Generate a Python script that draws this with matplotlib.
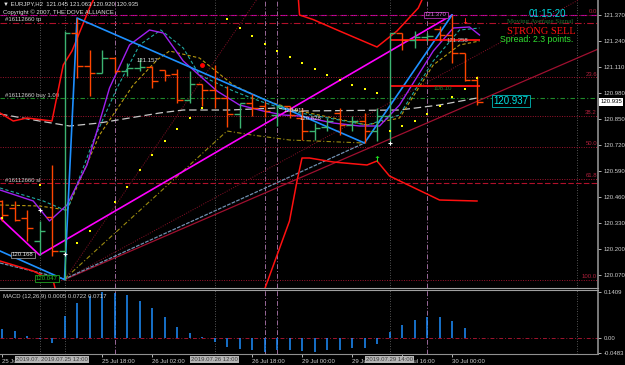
import matplotlib
matplotlib.use("Agg")
import matplotlib.pyplot as plt
import matplotlib.transforms as mtransforms

plt.rcParams['font.family'] = ['Liberation Sans', 'DejaVu Sans']

# ---- EURJPY H2 bars (bar 0 = 25 Jul 02:00) ----
opens = [120.442, 120.405, 120.355, 120.238, 120.36, 120.19, 121.28, 121.113, 121.08, 121.155,
         121.088, 121.105, 121.11, 121.097, 121.075, 120.947, 121.025, 120.997, 120.955, 120.875,
         120.93, 120.913, 120.872, 120.913, 120.855, 120.792, 120.81, 120.88, 120.822, 120.838,
         120.788, 120.863, 121.28, 121.247, 121.258, 121.30, 121.272, 121.18, 121.045]
highs = [120.447, 120.438, 120.397, 120.338, 120.622, 121.29, 121.355, 121.197, 121.197, 121.158,
         121.13, 121.155, 121.113, 121.097, 121.10, 121.088, 121.025, 121.122, 121.013, 120.93,
         120.975, 120.933, 120.922, 120.913, 120.905, 120.83, 120.855, 120.905, 120.863, 120.88,
         120.905, 121.28, 121.28, 121.288, 121.28, 121.313, 121.37, 121.18, 121.063]
lows = [120.338, 120.338, 120.238, 120.17, 120.163, 120.047, 121.055, 120.963, 121.08, 121.08,
        121.063, 121.088, 121.005, 121.038, 120.93, 120.93, 120.913, 120.905, 120.808, 120.805,
        120.863, 120.858, 120.813, 120.855, 120.747, 120.747, 120.788, 120.772, 120.788, 120.73,
        120.738, 120.738, 121.197, 121.205, 121.238, 121.238, 121.13, 121.038, 120.92]
closes = [120.372, 120.343, 120.305, 120.288, 120.19, 121.28, 121.113, 121.08, 121.155, 121.088,
          121.105, 121.11, 121.04, 121.072, 120.947, 121.025, 120.997, 120.955, 120.875, 120.93,
          120.905, 120.888, 120.913, 120.87, 120.792, 120.805, 120.838, 120.822, 120.838, 120.788,
          120.863, 121.28, 121.247, 121.258, 121.263, 121.272, 121.18, 121.047, 120.935]

macd_hist = [0.028, 0.0215, 0.005, -0.005, -0.016, 0.066, 0.107, 0.129, 0.1409, 0.139,
             0.131, 0.115, 0.093, 0.065, 0.032, 0.016, 0.001, -0.0125, -0.029, -0.035,
             -0.039, -0.045, -0.039, -0.038, -0.041, -0.044, -0.038, -0.038, -0.031, -0.031,
             -0.021, 0.017, 0.040, 0.054, 0.063, 0.065, 0.052, 0.030, 0.0005]

# labels hidden under the date boxes (bars 4 and 16) are left out
time_ticks = [0, 8, 12, 20, 24, 28, 32, 36]
time_labels = ['25 Jul 02:00', '25 Jul 18:00', '26 Jul 02:00', '26 Jul 18:00',
               '29 Jul 00:00', '29 Jul 08:00', '29 Jul 16:00', '30 Jul 00:00']
price_ticks = [121.370, 121.240, 121.110, 120.980, 120.850, 120.720, 120.590, 120.460,
               120.330, 120.200, 120.070]
macd_ticks = [0.1409, 0.0, -0.0483]

# moving averages / bands (bar index, price)
purple_x = [-0.16, 2.5, 3.8, 5.2, 6.8, 8.6, 10.2, 11.8, 12.9, 14.5, 17.2, 19.0, 20.9, 22.5, 23.8,
            26.5, 28.6, 30.2, 31.8, 34.5, 36.1, 37.4, 38.2]
purple_y = [120.495, 120.44, 120.34, 120.42, 120.62, 121.005, 121.22, 121.295, 121.28, 121.14,
            120.99, 120.92, 120.89, 120.87, 120.865, 120.83, 120.815, 120.815, 120.92, 121.19,
            121.305, 121.31, 121.27]
teal_x = [-0.16, 3.3, 5.2, 7.3, 9.2, 11.0, 12.7, 14.5, 15.8, 18.5, 20.6, 23.0, 29.2, 31.8, 34.5,
          36.6, 38.2]
teal_y = [120.505, 120.44, 120.39, 120.74, 121.005, 121.22, 121.295, 121.205, 121.07, 120.99,
          120.94, 120.89, 120.82, 120.87, 121.14, 121.295, 121.305]
olive_x = [-0.16, 3.0, 5.2, 7.8, 10.5, 12.4, 13.4, 15.8, 18.5, 21.2, 23.8, 29.2, 31.8, 34.5,
           36.6, 38.2]
olive_y = [120.42, 120.415, 120.395, 120.77, 121.02, 121.145, 121.19, 121.155, 121.02, 120.94,
           120.89, 120.82, 120.855, 121.12, 121.22, 121.24]
gray_x = [-0.16, 3.0, 5.4, 7.8, 12.6, 14.5, 18.2, 22.0, 23.8, 31.8, 35.0, 38.0]
gray_y = [120.875, 120.84, 120.815, 120.83, 120.88, 120.895, 120.895, 120.905, 120.89, 120.895,
          120.92, 120.955]
band_up1_x = [-0.16, 0.9, 2.0, 4.0, 4.9, 5.6, 7.0, 7.5]
band_up1_y = [120.88, 120.84, 120.855, 120.84, 121.12, 121.19, 121.405, 121.47]
band_up2_x = [23.7, 23.8, 24.9, 27.0, 30.0, 31.6, 33.3, 33.7]
band_up2_y = [121.46, 121.37, 121.347, 121.29, 121.21, 121.29, 121.405, 121.46]
band_lo1_x = [-0.16, 2.5, 4.1, 4.3]
band_lo1_y = [120.14, 120.09, 120.04, 119.99]
band_lo2_x = [20.9, 23.0, 23.6, 24.0, 24.6, 26.5, 29.2, 30.0, 31.0, 35.0, 38.0]
band_lo2_y = [119.98, 120.34, 120.54, 120.655, 120.655, 120.635, 120.62, 120.64, 120.565,
              120.445, 120.44]
lower_env_x = [5.0, 18.0, 20.0, 23.0, 29.0]
lower_env_y = [120.05, 120.79, 120.77, 120.745, 120.73]

# zigzags and trendlines
zigzag_x = [-0.16, 5.0, 6.0, 29.0, 36.0]
zigzag_y = [120.19, 120.047, 121.355, 120.73, 121.37]
channel_x = [-0.16, 3.0, 36.0]
channel_y = [120.355, 120.17, 121.37]
steel_x = [-0.16, 5.0, 29.0]
steel_y = [120.13, 120.05, 120.73]
trend_x = [5.0, 47.7]
trend_y = [120.047, 121.2]
fan_slopes = [0.034, 0.091]

# parabolic SAR dots
sar_x = [0, 3, 6, 7, 9, 10, 11, 12, 13, 14, 15, 16, 18, 19, 20, 21, 22, 23, 24, 25, 26, 27,
         28, 29, 30, 31, 32, 33, 34, 35, 36, 37, 38]
sar_y = [120.355, 120.52, 120.23, 120.29, 120.435, 120.51, 120.595, 120.67, 120.74, 120.80,
         120.855, 120.905, 121.35, 121.305, 121.265, 121.225, 121.19, 121.16, 121.13, 121.10,
         121.07, 121.045, 121.02, 121.0, 120.98, 120.79, 120.815, 120.84, 120.875, 120.915,
         120.96, 121.0, 121.055]

fib_high, fib_low = 121.37, 120.047
fib_ratios = [0.0, 23.6, 38.2, 50.0, 61.8, 100.0]

tp_level, buy_level, sl_level, magenta_level = 121.33, 120.955, 120.53, 121.368
box_levels = [121.245, 121.015]

vlines_gray = [3, 5, 17, 31, 46]
vlines_purple = [9, 21, 22, 34]
vline_dates = {3: '2019.07.25 08:00', 5: '2019.07.25 12:00', 17: '2019.07.26 12:00',
               31: '2019.07.29 14:00'}

W, H = 625, 365
fig = plt.figure(figsize=(W / 100, H / 100), dpi=100, facecolor='black')
ax = fig.add_axes([0, (H - 288) / H, 598 / W, 288 / H], facecolor='black')
ax2 = fig.add_axes([0, (H - 354) / H, 598 / W, 64 / H], facecolor='black')

xlim = (-0.16, 47.68)
ax.set_xlim(*xlim)
ax.set_ylim(120.005, 121.445)
ax2.set_xlim(*xlim)
ax2.set_ylim(-0.0506, 0.148)

for a in (ax, ax2):
    for s in a.spines.values():
        s.set_visible(False)
    a.spines['right'].set_visible(True)
    a.spines['right'].set_color('#909090')
    a.spines['right'].set_linewidth(1.2)
    a.yaxis.tick_right()
    a.tick_params(axis='y', colors='#d0d0d0', labelsize=4.3, length=2, width=0.6, pad=2)
ax.spines['bottom'].set_visible(True)
ax.spines['bottom'].set_color('#a0a0a0')
ax2.spines['top'].set_visible(True)
ax2.spines['top'].set_color('#a0a0a0')
ax2.spines['bottom'].set_visible(True)
ax2.spines['bottom'].set_color('#909090')
ax.set_xticks([])
ax.set_yticks(price_ticks)
ax.set_yticklabels(['%.3f' % p for p in price_ticks])
ax2.set_yticks(macd_ticks)
ax2.set_yticklabels(['0.1409', '0.00', '-0.0483'])
ax2.set_xticks(time_ticks)
ax2.set_xticklabels(time_labels)
ax2.tick_params(axis='x', colors='#d0d0d0', labelsize=4.3, length=2, width=0.6, pad=1.5)
for lbl in ax2.get_xticklabels():
    lbl.set_ha('left')

# vertical lines
for v in vlines_gray:
    for a in (ax, ax2):
        a.axvline(v, color='#707070', lw=0.6, ls=(0, (1, 2)), zorder=1)
for v in vlines_purple:
    for a in (ax, ax2):
        a.axvline(v, color='#9a6a9a', lw=0.7, ls=(0, (5, 2, 1, 2)), zorder=1)
blend2 = mtransforms.blended_transform_factory(ax2.transData, ax2.transAxes)
for b, s in vline_dates.items():
    ax2.text(b, -0.085, s, transform=blend2, ha='center', va='center', fontsize=4.3,
             color='#3a3a3a', clip_on=False, zorder=10,
             bbox=dict(boxstyle='square,pad=0.12', fc='#b4b4b4', ec='none'))

# horizontal levels
ax.axhline(magenta_level, color='#c000c0', lw=0.8, ls=(0, (6, 3)), zorder=1)
ax.axhline(tp_level, color='#b0102a', lw=0.8, ls=(0, (6, 2, 1, 2)), zorder=1)
ax.axhline(buy_level, color='#1f8a2a', lw=0.8, ls=(0, (4, 2, 1, 2)), zorder=1)
ax.axhline(sl_level, color='#b0102a', lw=0.8, ls=(0, (5, 2)), zorder=1)
for r in fib_ratios:
    lvl = fib_high - r / 100 * (fib_high - fib_low)
    ax.axhline(lvl, color='#a0142e', lw=0.7, ls=(0, (1, 1.5)), zorder=1)
    ax.text(47.6, lvl + 0.004, '%.1f' % r, ha='right', va='bottom', fontsize=4.3,
            color='#b0203c', zorder=3)
ax.text(0.24, tp_level + 0.02, '#16112660 tp', fontsize=4.3, color='#d0d0d0', va='center')
ax.text(0.24, buy_level + 0.015, '#16112660 buy 1.00', fontsize=4.3, color='#d0d0d0', va='center')
ax.text(0.24, sl_level + 0.015, '#16112660 sl', fontsize=4.3, color='#d0d0d0', va='center')

# trend / fan lines
ax.plot(trend_x, trend_y, color='#a01030', lw=0.9, zorder=2)
for s in fan_slopes:
    ax.plot([trend_x[0], xlim[1]], [trend_y[0], trend_y[0] + s * (xlim[1] - trend_x[0])],
            color='#8a1028', lw=0.7, ls=(0, (1, 1.5)), zorder=2)
ax.plot(lower_env_x, lower_env_y, color='#9a8a10', lw=0.8, ls=(0, (4, 2, 1, 2)), zorder=2)
ax.plot(steel_x, steel_y, color='#7090b0', lw=0.9, ls=(0, (3, 1)), zorder=2)

# moving averages and bands
ax.plot(gray_x, gray_y, color='#c8c8c8', lw=0.9, ls=(0, (6, 3)), zorder=3)
ax.plot(olive_x, olive_y, color='#b89a10', lw=0.8, ls=(0, (3, 2)), zorder=3)
ax.plot(teal_x, teal_y, color='#20a8a0', lw=0.8, ls=(0, (3, 2)), zorder=3)
ax.plot(purple_x, purple_y, color='#a020f0', lw=1.0, zorder=3)
for bx, by in [(band_up1_x, band_up1_y), (band_up2_x, band_up2_y),
               (band_lo1_x, band_lo1_y), (band_lo2_x, band_lo2_y)]:
    ax.plot(bx, by, color='#ff1010', lw=1.1, zorder=3)
ax.plot(channel_x, channel_y, color='#ff00ff', lw=1.2, zorder=4)
ax.plot(zigzag_x, zigzag_y, color='#1e90ff', lw=1.2, zorder=4)

# OHLC bars
idx = list(range(len(opens)))
cols = ['#3cb371' if c >= o else '#ff4500' for o, c in zip(opens, closes)]
ax.vlines(idx, lows, highs, colors=cols, lw=1.0, zorder=5)
ax.hlines(opens, [i - 0.45 for i in idx], idx, colors=cols, lw=1.0, zorder=5)
ax.hlines(closes, idx, [i + 0.45 for i in idx], colors=cols, lw=1.0, zorder=5)

# red box lines
for lvl in box_levels:
    ax.hlines(lvl, 31, 38.2, colors='#ff1010', lw=1.3, zorder=4)

# SAR dots
ax.scatter(sar_x, sar_y, s=2.5, marker='s', color='#ffff00', lw=0, zorder=6)

# markers
ax.plot([3, 5, 31], [120.395, 120.175, 120.73], ls='none', marker='+', ms=3, mew=0.8,
        color='white', zorder=7)
ax.plot([16], [121.12], ls='none', marker='o', ms=2.5, color='red', zorder=7)
ax.plot([4], [120.055], ls='none', marker='o', ms=2.5, color='#20e020', zorder=7)
ax.text(30, 120.645, '↑', color='#20e020', fontsize=6, ha='center', va='center',
        family='DejaVu Sans', fontweight='bold', zorder=7)
ax.text(37, 121.335, '↓', color='#ff2020', fontsize=6, ha='center', va='center',
        family='DejaVu Sans', fontweight='bold', zorder=7)

# price labels on chart
ax.text(34.7, 121.37, '121.370', fontsize=4.3, color='#e070e0', ha='center', va='center',
        zorder=8, bbox=dict(boxstyle='square,pad=0.15', fc='black', ec='#b030b0', lw=0.6))
ax.text(10.8, 121.14, '121.157', fontsize=4.3, color='#e0e0e0', va='center', zorder=8)
ax.text(0.8, 120.17, '120.168', fontsize=4.3, color='#e0e0e0', va='center', zorder=8,
        bbox=dict(boxstyle='square,pad=0.15', fc='black', ec='#909090', lw=0.6))
ax.text(2.7, 120.052, '120.047', fontsize=4.3, color='#20c020', va='center', zorder=8,
        bbox=dict(boxstyle='square,pad=0.15', fc='black', ec='#20a020', lw=0.6))
ax.text(22.5, 120.895, '120.911', fontsize=4.3, color='#e0e0e0', va='center', zorder=8)
ax.text(23.8, 120.85, '120.828', fontsize=4.3, color='#e0e0e0', va='center', zorder=8)
ax.text(35.6, 121.24, '121.258', fontsize=4.3, color='#c0c0c0', va='center', zorder=8)
ax.text(34.5, 121.005, '108.10', fontsize=4.3, color='#1f7a2a', va='center', zorder=8)
ax.text(40.7, 120.94, '120.937', fontsize=7, color='#00e0e0', ha='center', va='center',
        zorder=8, bbox=dict(boxstyle='square,pad=0.15', fc='black', ec='#00a0a0', lw=0.7))

# current price tag on the scale
blend = mtransforms.blended_transform_factory(ax.transAxes, ax.transData)
ax.text(1.004, closes[-1], '%.3f' % closes[-1], transform=blend, fontsize=4.3, color='black',
        va='center', ha='left', clip_on=False, zorder=10,
        bbox=dict(boxstyle='square,pad=0.2', fc='white', ec='none'))

# MACD histogram
ax2.vlines(idx, 0, macd_hist, colors='#1e8fff', lw=1.1, zorder=3)
ax2.axhline(0, color='#a0142e', lw=0.7, ls=(0, (4, 2, 1, 2)), zorder=2)
ax2.text(0.005, 0.9, 'MACD (12,26,9) 0.0005 0.0722 0.0717', transform=ax2.transAxes,
         fontsize=4.3, color='#d0d0d0', va='center')

# header texts
fig.text(3 / W, 1 - 4 / H, '▼ EURJPY,H2  121.045 121.063 120.920 120.935', fontsize=4.3,
         color='#e0e0e0', va='center')
fig.text(3 / W, 1 - 12 / H, 'Copyright © 2007, THE DOVE ALLIANCE', fontsize=4.3,
         color='#e0e0e0', va='center')
fig.text(547 / W, 1 - 14 / H, '01:15:20', fontsize=7, color='#00d8e0', ha='center', va='center')
fig.text(540 / W, 1 - 22 / H, 'Moving Average Signal', fontsize=5, color='#1f6e30',
         family='Liberation Serif', ha='center', va='center')
fig.text(541 / W, 1 - 31 / H, 'STRONG SELL', fontsize=7.5, color='#ff1010',
         family='Liberation Serif', ha='center', va='center')
fig.text(537 / W, 1 - 40 / H, 'Spread: 2.3 points.', fontsize=6.3, color='#30e030',
         ha='center', va='center')

fig.savefig('out.png', dpi=100, facecolor='black')
